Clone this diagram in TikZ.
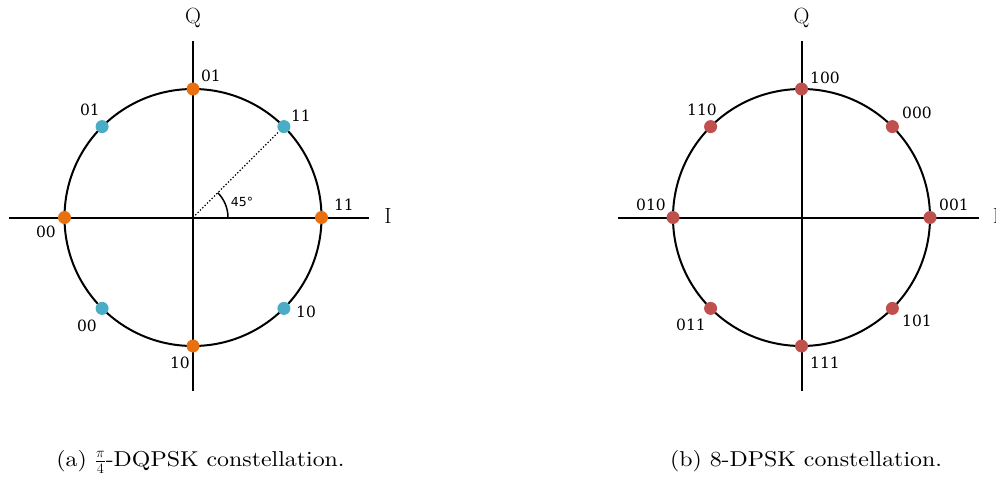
\documentclass[tikz,border=0pt]{standalone}
\usepackage{fontspec}
\usetikzlibrary{calc}
\newfontfamily\labfont{DejaVu Serif}
\newfontfamily\angfont{DejaVu Sans}
\newfontfamily\capfont[FakeStretch=1.11]{lmroman10-regular.otf}
\definecolor{dqorange}{HTML}{E8700E}
\definecolor{dqblue}{HTML}{4BACC6}
\definecolor{dpred}{HTML}{C0504D}
\begin{document}
\begin{tikzpicture}[x=1pt,y=1pt,
  axis/.style={line width=2pt},
  ring/.style={line width=2pt},
  pt/.style={circle,inner sep=0pt,minimum size=13pt},
  lab/.style={font=\labfont\fontsize{15.5}{18}\selectfont,inner sep=0pt},
  axlab/.style={font=\fontsize{22}{26}\selectfont,inner sep=0pt},
  captext/.style={font=\capfont\fontsize{21.5}{26}\selectfont,inner sep=0pt,anchor=base}]
\clip (0,0) rectangle (996,483);
% ---------- left: pi/4-DQPSK ----------
\coordinate (O1) at (193,265.5);
\coordinate (L1w) at (9,265.5);
\coordinate (L1e) at (369,265.5);
\coordinate (L1n) at (193,442);
\coordinate (L1s) at (193,92);
\coordinate (A1) at (228,265.5);
\draw[axis] (L1w) -- (L1e);
\draw[axis] (L1n) -- (L1s);
\draw[ring] (O1) circle[radius=128.5];
\node[axlab] (Q1) at (193,465) {Q};
\node[axlab] (I1) at (388,267) {I};
\node[pt,fill=dqorange] (oE) at (321.5,265.5) {};
\node[pt,fill=dqorange] (oN) at (193,394) {};
\node[pt,fill=dqorange] (oW) at (64.5,265.5) {};
\node[pt,fill=dqorange] (oS) at (193,137) {};
\node[pt,fill=dqblue] (bNE) at (283.9,356.4) {};
\node[pt,fill=dqblue] (bNW) at (102.1,356.4) {};
\node[pt,fill=dqblue] (bSW) at (102.1,174.6) {};
\node[pt,fill=dqblue] (bSE) at (283.9,174.6) {};
\draw[dotted,line width=1.3pt] (O1) -- (bNE);
\draw[line width=1.5pt] (A1) arc[start angle=0,end angle=45,radius=35];
\node[font=\angfont\fontsize{12.5}{15}\selectfont,inner sep=0pt] (ang) at (242,281) {45°};
\node[lab] (loN) at (211,407) {01};
\node[lab] (lbNW) at (90,373) {01};
\node[lab] (lbNE) at (301,367) {11};
\node[lab] (loE) at (344,278) {11};
\node[lab] (loW) at (46,251) {00};
\node[lab] (lbSW) at (87,157) {00};
\node[lab] (lbSE) at (306,171) {10};
\node[lab] (loS) at (180,120) {10};
\node[captext] (capA) at (200.5,17) {(a) $\frac{\pi}{4}$-DQPSK constellation.};
% ---------- right: 8-DPSK ----------
\coordinate (O2) at (801.5,265.5);
\coordinate (L2w) at (618,265.5);
\coordinate (L2e) at (979,265.5);
\coordinate (L2n) at (801.5,442);
\coordinate (L2s) at (801.5,92);
\draw[axis] (L2w) -- (L2e);
\draw[axis] (L2n) -- (L2s);
\draw[ring] (O2) circle[radius=128.5];
\node[axlab] (Q2) at (801.5,465) {Q};
\node[axlab] (I2) at (996.5,267) {I};
\node[pt,fill=dpred] (rE) at (930,265.5) {};
\node[pt,fill=dpred] (rNE) at (892.4,356.4) {};
\node[pt,fill=dpred] (rN) at (801.5,394) {};
\node[pt,fill=dpred] (rNW) at (710.6,356.4) {};
\node[pt,fill=dpred] (rW) at (673,265.5) {};
\node[pt,fill=dpred] (rSW) at (710.6,174.6) {};
\node[pt,fill=dpred] (rS) at (801.5,137) {};
\node[pt,fill=dpred] (rSE) at (892.4,174.6) {};
\node[lab] (lrN) at (825,405) {100};
\node[lab] (lrNE) at (917,370) {000};
\node[lab] (lrNW) at (702,373) {110};
\node[lab] (lrW) at (651,278) {010};
\node[lab] (lrE) at (954,278) {001};
\node[lab] (lrSW) at (691,158) {011};
\node[lab] (lrSE) at (917,162) {101};
\node[lab] (lrS) at (825,120) {111};
\node[captext] (capB) at (806,17) {(b) 8-DPSK constellation.};
\end{tikzpicture}
\end{document}
